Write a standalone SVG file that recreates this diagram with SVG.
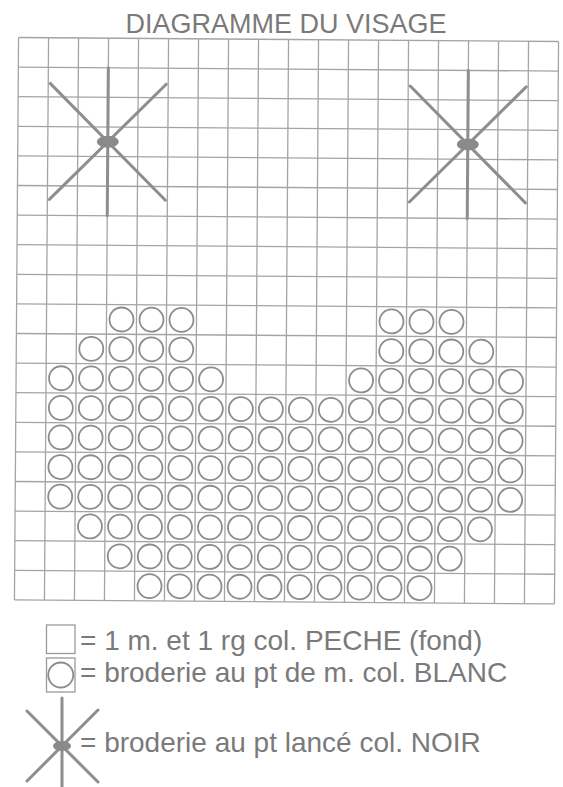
<svg xmlns="http://www.w3.org/2000/svg" width="563" height="787" viewBox="0 0 563 787">
<style>
.grid{fill:none;stroke:#a4a4a4;stroke-width:1.3}
.st{fill:none;stroke:#8e8e8e;stroke-width:3;stroke-linecap:round}
.blob{fill:#8a8a8a}
.c{fill:#fff;stroke:#8c8c8c;stroke-width:1.8}
.t{font-family:"Liberation Sans",Arial,sans-serif;fill:#7a7a7a}
.box{fill:#fff;stroke:#9a9a9a;stroke-width:1.3}
</style>
<defs>
<g id="star">
<line class="st" x1="0" y1="-74" x2="0" y2="74"/>
<line class="st" x1="-58" y1="-58" x2="58" y2="58"/>
<line class="st" x1="58" y1="-58" x2="-58" y2="58"/>
<ellipse class="blob" cx="0" cy="0" rx="11" ry="6"/>
</g>
</defs>
<rect width="563" height="787" fill="#fff"/>
<text id="title" class="t" x="286" y="33" font-size="27" text-anchor="middle">DIAGRAMME DU VISAGE</text>
<g id="chart" transform="rotate(0.42 287 320)">
<g id="grid">
<path class="grid" d="M16.5 39.5V601.9M46.5 39.5V601.9M76.5 39.5V601.9M106.5 39.5V601.9M136.5 39.5V601.9M166.5 39.5V601.9M196.5 39.5V601.9M226.5 39.5V601.9M256.5 39.5V601.9M286.5 39.5V601.9M316.5 39.5V601.9M346.5 39.5V601.9M376.5 39.5V601.9M406.5 39.5V601.9M436.5 39.5V601.9M466.5 39.5V601.9M496.5 39.5V601.9M526.5 39.5V601.9M556.5 39.5V601.9"/>
<path class="grid" d="M16.5 39.5H556.5M16.5 69.1H556.5M16.5 98.7H556.5M16.5 128.3H556.5M16.5 157.9H556.5M16.5 187.5H556.5M16.5 217.1H556.5M16.5 246.7H556.5M16.5 276.3H556.5M16.5 305.9H556.5M16.5 335.5H556.5M16.5 365.1H556.5M16.5 394.7H556.5M16.5 424.3H556.5M16.5 453.9H556.5M16.5 483.5H556.5M16.5 513.1H556.5M16.5 542.7H556.5M16.5 572.3H556.5M16.5 601.9H556.5"/>
</g>
<g id="eye-left"><use href="#star" x="106.5" y="143.1"/></g>
<g id="eye-right"><use href="#star" x="466.5" y="143.1"/></g>
<g id="mouth">
<g transform="translate(0 320.7)"><circle class="c" cx="121.5" r="12"/><circle class="c" cx="151.5" r="12"/><circle class="c" cx="181.5" r="12"/><circle class="c" cx="391.5" r="12"/><circle class="c" cx="421.5" r="12"/><circle class="c" cx="451.5" r="12"/></g>
<g transform="translate(0 350.3)"><circle class="c" cx="91.5" r="12"/><circle class="c" cx="121.5" r="12"/><circle class="c" cx="151.5" r="12"/><circle class="c" cx="181.5" r="12"/><circle class="c" cx="391.5" r="12"/><circle class="c" cx="421.5" r="12"/><circle class="c" cx="451.5" r="12"/><circle class="c" cx="481.5" r="12"/></g>
<g transform="translate(0 379.9)"><circle class="c" cx="61.5" r="12"/><circle class="c" cx="91.5" r="12"/><circle class="c" cx="121.5" r="12"/><circle class="c" cx="151.5" r="12"/><circle class="c" cx="181.5" r="12"/><circle class="c" cx="211.5" r="12"/><circle class="c" cx="361.5" r="12"/><circle class="c" cx="391.5" r="12"/><circle class="c" cx="421.5" r="12"/><circle class="c" cx="451.5" r="12"/><circle class="c" cx="481.5" r="12"/><circle class="c" cx="511.5" r="12"/></g>
<g transform="translate(0 409.5)"><circle class="c" cx="61.5" r="12"/><circle class="c" cx="91.5" r="12"/><circle class="c" cx="121.5" r="12"/><circle class="c" cx="151.5" r="12"/><circle class="c" cx="181.5" r="12"/><circle class="c" cx="211.5" r="12"/><circle class="c" cx="241.5" r="12"/><circle class="c" cx="271.5" r="12"/><circle class="c" cx="301.5" r="12"/><circle class="c" cx="331.5" r="12"/><circle class="c" cx="361.5" r="12"/><circle class="c" cx="391.5" r="12"/><circle class="c" cx="421.5" r="12"/><circle class="c" cx="451.5" r="12"/><circle class="c" cx="481.5" r="12"/><circle class="c" cx="511.5" r="12"/></g>
<g transform="translate(0 439.1)"><circle class="c" cx="61.5" r="12"/><circle class="c" cx="91.5" r="12"/><circle class="c" cx="121.5" r="12"/><circle class="c" cx="151.5" r="12"/><circle class="c" cx="181.5" r="12"/><circle class="c" cx="211.5" r="12"/><circle class="c" cx="241.5" r="12"/><circle class="c" cx="271.5" r="12"/><circle class="c" cx="301.5" r="12"/><circle class="c" cx="331.5" r="12"/><circle class="c" cx="361.5" r="12"/><circle class="c" cx="391.5" r="12"/><circle class="c" cx="421.5" r="12"/><circle class="c" cx="451.5" r="12"/><circle class="c" cx="481.5" r="12"/><circle class="c" cx="511.5" r="12"/></g>
<g transform="translate(0 468.7)"><circle class="c" cx="61.5" r="12"/><circle class="c" cx="91.5" r="12"/><circle class="c" cx="121.5" r="12"/><circle class="c" cx="151.5" r="12"/><circle class="c" cx="181.5" r="12"/><circle class="c" cx="211.5" r="12"/><circle class="c" cx="241.5" r="12"/><circle class="c" cx="271.5" r="12"/><circle class="c" cx="301.5" r="12"/><circle class="c" cx="331.5" r="12"/><circle class="c" cx="361.5" r="12"/><circle class="c" cx="391.5" r="12"/><circle class="c" cx="421.5" r="12"/><circle class="c" cx="451.5" r="12"/><circle class="c" cx="481.5" r="12"/><circle class="c" cx="511.5" r="12"/></g>
<g transform="translate(0 498.3)"><circle class="c" cx="61.5" r="12"/><circle class="c" cx="91.5" r="12"/><circle class="c" cx="121.5" r="12"/><circle class="c" cx="151.5" r="12"/><circle class="c" cx="181.5" r="12"/><circle class="c" cx="211.5" r="12"/><circle class="c" cx="241.5" r="12"/><circle class="c" cx="271.5" r="12"/><circle class="c" cx="301.5" r="12"/><circle class="c" cx="331.5" r="12"/><circle class="c" cx="361.5" r="12"/><circle class="c" cx="391.5" r="12"/><circle class="c" cx="421.5" r="12"/><circle class="c" cx="451.5" r="12"/><circle class="c" cx="481.5" r="12"/><circle class="c" cx="511.5" r="12"/></g>
<g transform="translate(0 527.9)"><circle class="c" cx="91.5" r="12"/><circle class="c" cx="121.5" r="12"/><circle class="c" cx="151.5" r="12"/><circle class="c" cx="181.5" r="12"/><circle class="c" cx="211.5" r="12"/><circle class="c" cx="241.5" r="12"/><circle class="c" cx="271.5" r="12"/><circle class="c" cx="301.5" r="12"/><circle class="c" cx="331.5" r="12"/><circle class="c" cx="361.5" r="12"/><circle class="c" cx="391.5" r="12"/><circle class="c" cx="421.5" r="12"/><circle class="c" cx="451.5" r="12"/><circle class="c" cx="481.5" r="12"/></g>
<g transform="translate(0 557.5)"><circle class="c" cx="121.5" r="12"/><circle class="c" cx="151.5" r="12"/><circle class="c" cx="181.5" r="12"/><circle class="c" cx="211.5" r="12"/><circle class="c" cx="241.5" r="12"/><circle class="c" cx="271.5" r="12"/><circle class="c" cx="301.5" r="12"/><circle class="c" cx="331.5" r="12"/><circle class="c" cx="361.5" r="12"/><circle class="c" cx="391.5" r="12"/><circle class="c" cx="421.5" r="12"/><circle class="c" cx="451.5" r="12"/></g>
<g transform="translate(0 587.1)"><circle class="c" cx="151.5" r="12"/><circle class="c" cx="181.5" r="12"/><circle class="c" cx="211.5" r="12"/><circle class="c" cx="241.5" r="12"/><circle class="c" cx="271.5" r="12"/><circle class="c" cx="301.5" r="12"/><circle class="c" cx="331.5" r="12"/><circle class="c" cx="361.5" r="12"/><circle class="c" cx="391.5" r="12"/><circle class="c" cx="421.5" r="12"/></g>
</g>
</g>
<g id="legend">
<g id="legend-fond">
<rect class="box" x="46.5" y="625" width="28.5" height="28.5"/>
<text class="t" x="80" y="650" font-size="28">= 1 m. et 1 rg col. PECHE (fond)</text>
</g>
<g id="legend-blanc">
<rect class="box" x="46.5" y="658" width="28.5" height="34"/>
<circle class="c" cx="60.75" cy="675" r="12.5"/>
<text class="t" x="80" y="682" font-size="28">= broderie au pt de m. col. BLANC</text>
</g>
<g id="legend-noir">
<line class="st" x1="62" y1="698" x2="62" y2="790"/>
<line class="st" x1="27" y1="711" x2="98" y2="782"/>
<line class="st" x1="98" y1="710" x2="27" y2="781"/>
<ellipse class="blob" cx="62" cy="746" rx="9" ry="5"/>
<text class="t" x="80" y="752" font-size="28">= broderie au pt lancé col. NOIR</text>
</g>
</g>
</svg>
